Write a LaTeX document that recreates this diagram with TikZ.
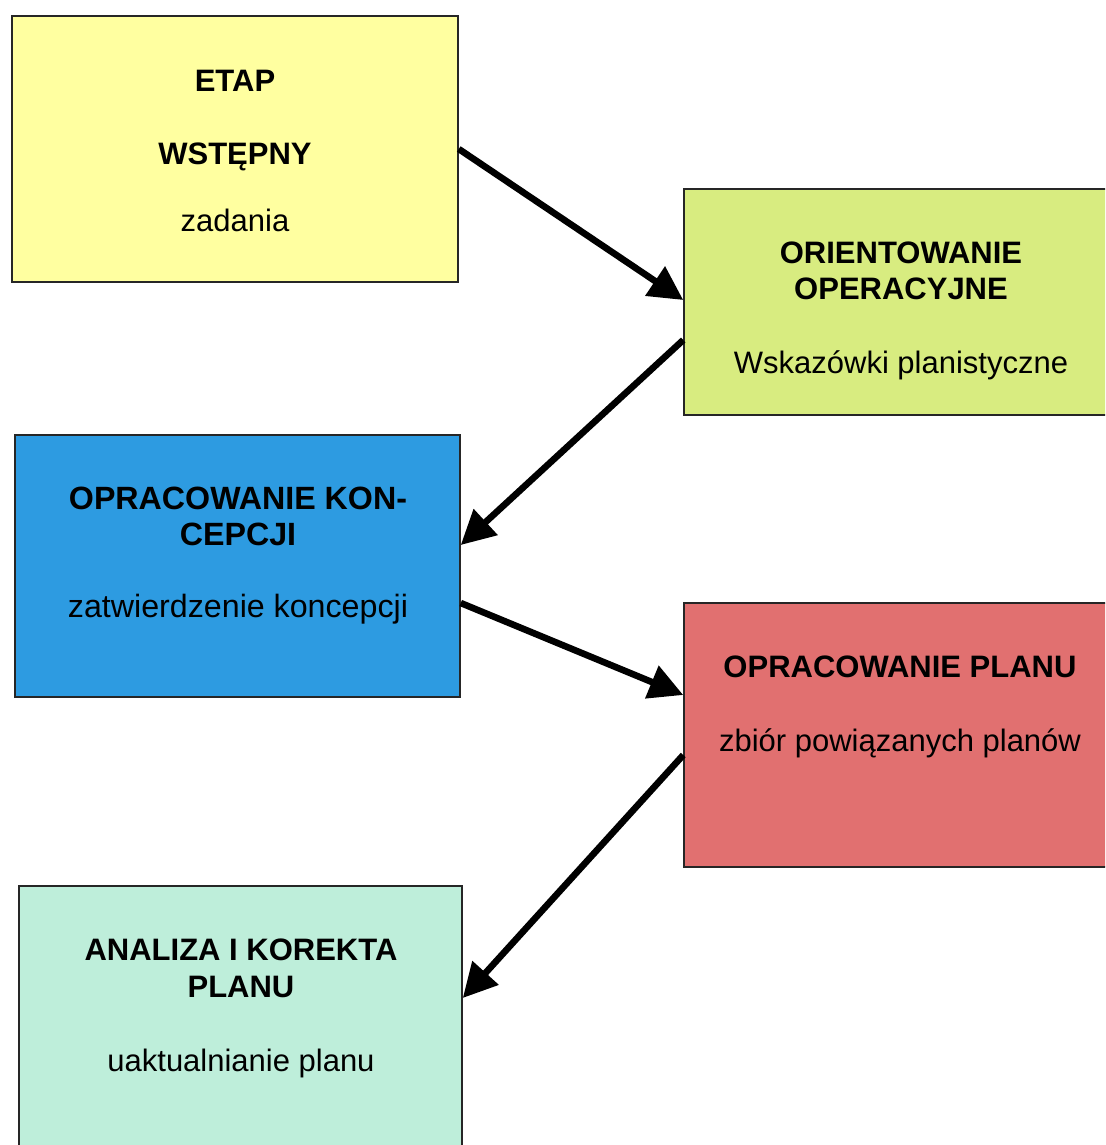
\documentclass[tikz,border=0pt]{standalone}
\usepackage{fontspec}
\setmainfont{Liberation Sans}
\usetikzlibrary{arrows.meta,calc}
\definecolor{cyellow}{RGB}{255,255,160}
\definecolor{cgreen}{RGB}{216,236,128}
\definecolor{cblue}{RGB}{45,155,225}
\definecolor{cred}{RGB}{225,112,112}
\definecolor{cmint}{RGB}{190,238,218}
\begin{document}
\begin{tikzpicture}[x=0.5pt,y=-0.5pt,
  box/.style={draw=black!85, line width=0.75pt, inner sep=0pt, rectangle},
  ttl/.style={font=\bfseries\fontsize{15.5pt}{18pt}\selectfont, anchor=base, inner sep=0pt},
  sub/.style={font=\fontsize{15.5pt}{18pt}\selectfont, anchor=base, inner sep=0pt},
  wide/.style={font=\fontsize{16.1pt}{18pt}\selectfont},
  conn/.style={line width=3.3pt, -{Triangle[length=17pt,width=17pt]}}]
\useasboundingbox (0,0) rectangle (1105,1145);
\clip (0,0) rectangle (1105,1145);
\fill[white] (0,0) rectangle (1105,1145);
% boxes
\node[box, fill=cyellow, minimum width=223pt, minimum height=133pt] (a) at (235,149) {};
\node[box, fill=cgreen, minimum width=216pt, minimum height=113pt] (b) at (900,302) {};
\node[box, fill=cblue, minimum width=222.5pt, minimum height=131pt] (c) at (237.5,566) {};
\node[box, fill=cred, minimum width=216pt, minimum height=132pt] (d) at (900,735) {};
\node[box, fill=cmint, minimum width=221.5pt, minimum height=132pt] (e) at (240.5,1018) {};
% texts
\node[ttl] (a1) at (235,91) {ETAP};
\node[ttl] (a2) at (235,164) {WSTĘPNY};
\node[sub] (a3) at (235,231) {zadania};
\node[ttl] (b1) at (901,263) {ORIENTOWANIE};
\node[ttl] (b2) at (901,299) {OPERACYJNE};
\node[sub] (b3) at (901,373) {Wskazówki planistyczne};
\node[ttl, font=\bfseries\fontsize{16.1pt}{18pt}\selectfont] (c1) at (238,509) {OPRACOWANIE KON-};
\node[ttl, font=\bfseries\fontsize{16.1pt}{18pt}\selectfont] (c2) at (238,545) {CEPCJI};
\node[sub, wide] (c3) at (238,617) {zatwierdzenie koncepcji};
\node[ttl] (d1) at (900,677) {OPRACOWANIE PLANU};
\node[sub] (d2) at (900,751) {zbiór powiązanych planów};
\node[ttl] (e1) at (241,960) {ANALIZA I KOREKTA};
\node[ttl] (e2) at (241,997) {PLANU};
\node[sub] (e3) at (241,1071) {uaktualnianie planu};
% connectors
\draw[conn] (a.east) -- ($(b.west)+(0,-2)$);
\draw[conn] ($(b.west)+(0,38)$) -- ($(c.east)+(0,-21)$);
\draw[conn] ($(c.east)+(0,37)$) -- ($(d.west)+(0,-40)$);
\draw[conn] ($(d.west)+(0,20)$) -- ($(e.east)+(0,-20)$);
\end{tikzpicture}
\end{document}
